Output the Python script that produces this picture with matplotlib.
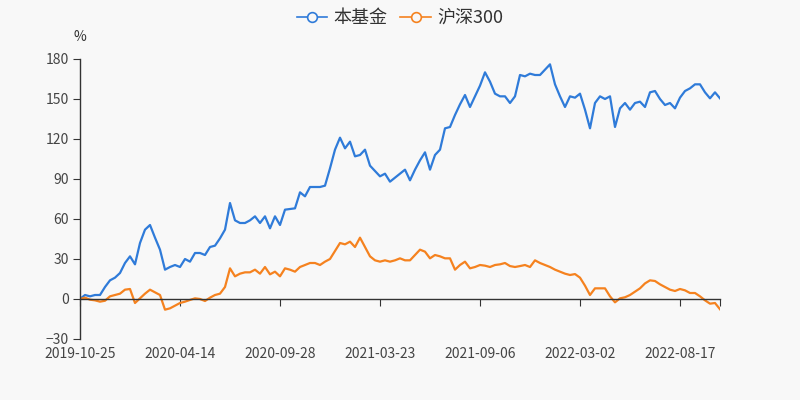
import matplotlib
matplotlib.use("Agg")
import matplotlib.pyplot as plt
from matplotlib.lines import Line2D

plt.rcParams['font.family'] = ['Noto Sans CJK SC', 'DejaVu Sans']

tick_labels = ["2019-10-25", "2020-04-14", "2020-09-28", "2021-03-23",
               "2021-09-06", "2022-03-02", "2022-08-17"]
tick_step = 20

fund = [0, 3, 2, 3, 3, 9, 14, 16, 19.5, 27, 32, 26, 42, 52, 55.5, 46, 37, 22, 24, 25.5,
        24, 30, 28, 34.5, 34.5, 33, 39, 40, 45.5, 52, 72, 59, 57, 57, 59, 62, 57, 62, 53, 62,
        55.5, 67, 67.5, 68, 80, 77, 84, 84, 84, 85, 98, 112, 121, 113, 118, 107, 108, 112, 100, 96,
        92, 94, 88, 91, 94, 97, 89, 97, 104, 110, 97, 108, 112, 128, 129, 138, 146, 153, 144, 152,
        160, 170, 163, 154, 152, 152, 147, 152, 168, 167, 169, 168, 168, 172, 176, 161, 152, 144, 152, 151,
        154, 142, 128, 147, 152, 150, 152, 129, 143, 147, 142, 147, 148, 144, 155, 156, 150, 145.5, 147, 143,
        151, 156, 158, 161, 161, 155, 150.5, 155, 150.5]

hs300 = [0, 1, -0.5, -1, -2, -1.3, 2, 3, 4, 7, 7.5, -3, 0.5, 4, 7, 5, 3, -8, -7, -5,
         -3, -2, -0.7, 0.5, 0, -1.5, 1, 3, 4, 9, 23, 17, 19, 20, 20, 22, 19, 24, 18.5, 20.5,
         17, 23, 22, 20.5, 24, 25.5, 27, 27, 25.5, 28, 30, 36, 42, 41, 43, 39, 46, 39, 32, 29,
         28, 29, 28, 29, 30.5, 29, 29, 33, 37, 35.5, 30.5, 33, 32, 30.5, 30.5, 22, 25.5, 28, 23, 24,
         25.5, 25, 24, 25.5, 26, 27, 24.7, 24, 24.7, 25.5, 24, 29, 27, 25.5, 24, 22, 20.5, 19, 18, 18.7,
         16, 10, 3, 8, 8, 8, 2, -2.5, 0.5, 1.3, 3, 5.5, 8, 11.7, 14, 13.5, 11, 9, 7, 6,
         7.5, 6.5, 4.5, 4.5, 2, -1, -3.5, -3, -7.7]

series_names = ["本基金", "沪深300"]
colors = ["#2f7bd9", "#f5821f"]

bg = "#f8f8f8"
fig = plt.figure(figsize=(8, 4), dpi=100, facecolor=bg)
ax = fig.add_axes([0.1, 0.1525, 0.8, 0.70])
ax.set_facecolor(bg)

x = list(range(len(fund)))
ax.plot(x, fund, color=colors[0], lw=1.6, solid_joinstyle='round')
ax.plot(x, hs300, color=colors[1], lw=1.6, solid_joinstyle='round')

n = len(fund) - 1
ax.set_xlim(0, n)
ax.set_ylim(-30, 180)
ax.set_yticks(range(-30, 181, 30))

for s in ['top', 'right']:
    ax.spines[s].set_visible(False)
ax.spines['bottom'].set_position(('data', 0))
ax.spines['bottom'].set_color('#333333')
ax.spines['left'].set_color('#333333')
ax.spines['bottom'].set_linewidth(1)
ax.spines['left'].set_linewidth(1)

major = [i * tick_step for i in range(len(tick_labels))]
ax.set_xticks(major + [n])
ax.tick_params(axis='x', direction='out', length=5, color='#333333', labelbottom=False)
ax.tick_params(axis='y', direction='out', length=5, color='#333333', labelsize=10,
               labelcolor='#444444', pad=3)

sec = ax.secondary_xaxis('bottom')
sec.set_xticks(major)
sec.set_xticklabels(tick_labels)
sec.tick_params(axis='x', length=0, labelsize=10, labelcolor='#444444', pad=6)
sec.spines['bottom'].set_visible(False)

ax.text(0, 1.079, "%", transform=ax.transAxes, ha='center', va='center',
        fontsize=10, color='#333333')

handles = [Line2D([0], [0], color=c, lw=1.2, marker='o', markersize=7,
                  markerfacecolor=bg, markeredgecolor=c, markeredgewidth=1.2)
           for c in colors]
fig.legend(handles, series_names, loc='upper center', bbox_to_anchor=(0.5, 1.0),
           ncol=2, frameon=False, fontsize=13, handlelength=1.7, handletextpad=0.35,
           columnspacing=0.7, labelcolor='#333333', borderaxespad=0.1)

fig.savefig("out.png", dpi=100, facecolor=bg)
